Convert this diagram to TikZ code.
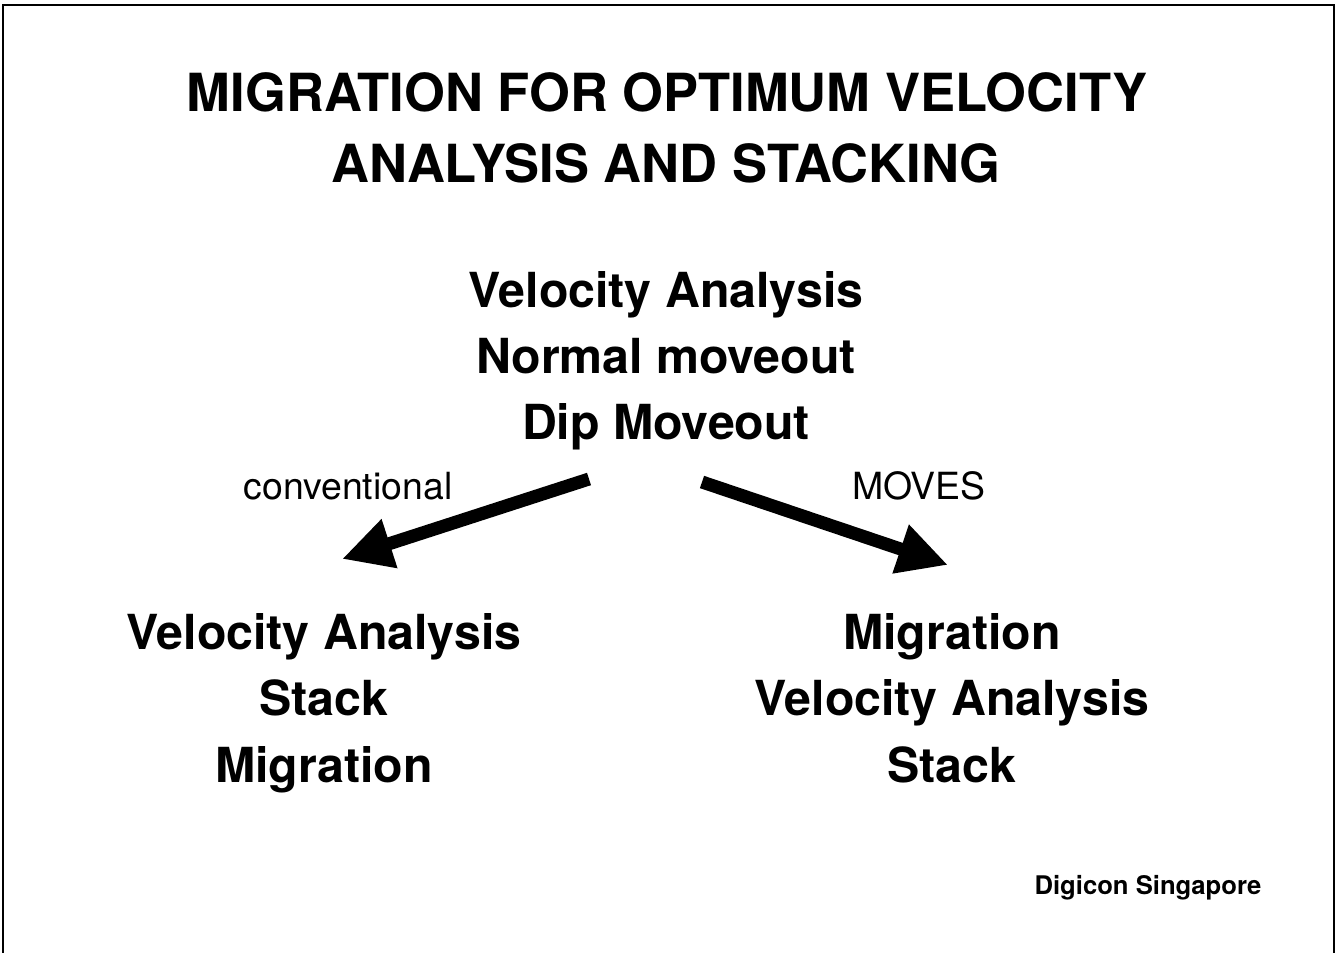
\documentclass[tikz,border=0pt]{standalone}
\usepackage{fontspec}
\setmainfont{TeX Gyre Heros}
\usetikzlibrary{arrows.meta}
\tikzset{
  heading/.style={anchor=base,font=\fontsize{29.9}{36}\selectfont\bfseries,inner sep=0pt},
  item/.style={anchor=base,font=\fontsize{27.5}{33}\selectfont\bfseries,inner sep=0pt},
  pathlabel/.style={anchor=base,font=\fontsize{21.3}{25}\selectfont,inner sep=0pt},
  bigarrow/.style={line width=0.26cm,-{Triangle[length=1cm,width=0.96cm]}}
}
\begin{document}
\begin{tikzpicture}[x=0.02cm,y=-0.02cm]
  \useasboundingbox (0,0) rectangle (1336,953);
  % frame, open at the bottom
  \draw[line width=1.2pt] (3,953) -- (3,5) -- (1334,5) -- (1334,953);
  \node[heading] (title1) at (667,112) {MIGRATION FOR OPTIMUM VELOCITY};
  \node[heading] (title2) at (666,182) {ANALYSIS AND STACKING};
  % processing sequences
  \foreach \t [count=\i] in {Velocity Analysis,Normal moveout,Dip Moveout}
    {\node[item] (mid\i) at (666,{307+66*(\i-1)}) {\t};}
  \foreach \t [count=\i] in {Velocity Analysis,Stack,Migration}
    {\node[item] (conv\i) at (324,{649+66.5*(\i-1)}) {\t};}
  \foreach \t [count=\i] in {Migration,Velocity Analysis,Stack}
    {\node[item] (moves\i) at (952,{649+66.5*(\i-1)}) {\t};}
  \node[pathlabel] (convlabel) at (348,499) {conventional};
  \node[pathlabel] (moveslabel) at (919,499) {MOVES};
  % arrows
  \coordinate (convtail) at (589,479);
  \coordinate (convtip) at (342,559);
  \coordinate (movestail) at (702,482);
  \coordinate (movestip) at (948,565);
  \draw[bigarrow] (convtail) -- (convtip);
  \draw[bigarrow] (movestail) -- (movestip);
  \node[anchor=base,font=\fontsize{14.6}{18}\selectfont\bfseries,inner sep=0pt] (credit) at (1148,894) {Digicon Singapore};
\end{tikzpicture}
\end{document}
